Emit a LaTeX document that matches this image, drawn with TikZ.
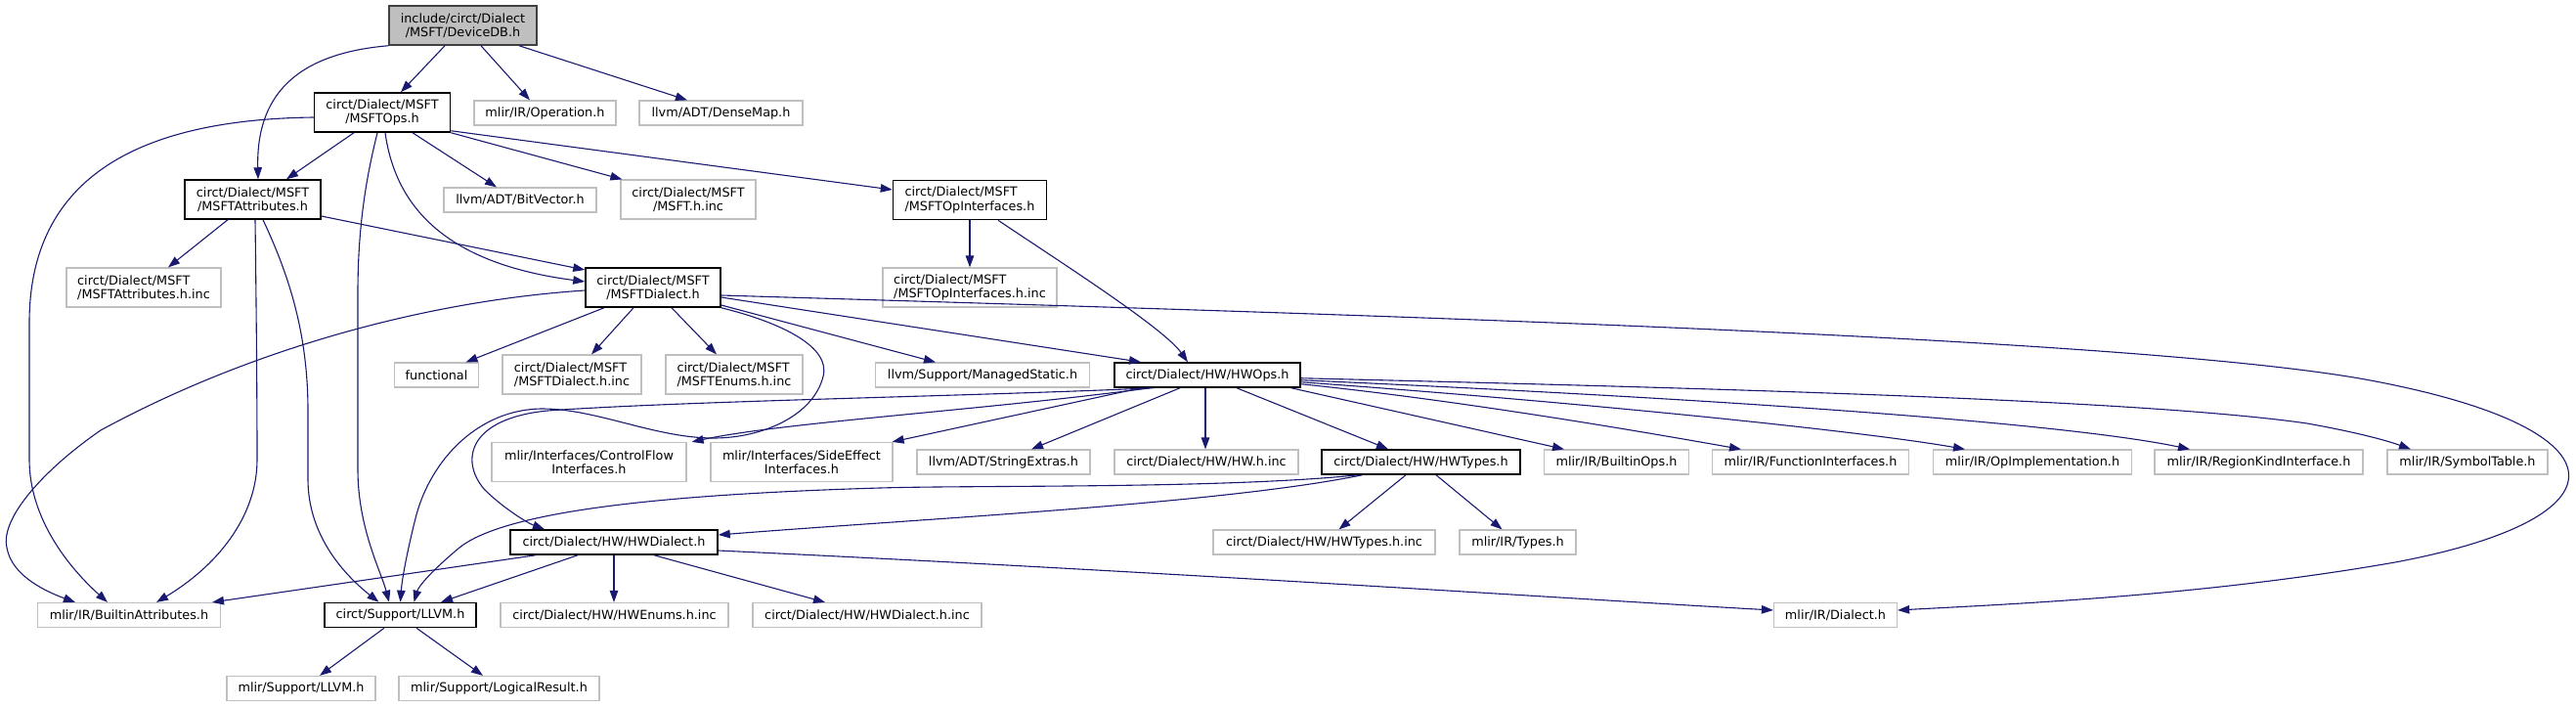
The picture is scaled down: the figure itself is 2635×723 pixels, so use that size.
\documentclass[tikz,border=0pt]{standalone}
\usepackage{fontspec}
\setmainfont{DejaVu Sans}
\usetikzlibrary{arrows.meta}
\definecolor{edgeblue}{RGB}{25,25,112}
\definecolor{greyline}{RGB}{191,191,191}
\definecolor{rootfill}{RGB}{191,191,191}
\definecolor{rootline}{RGB}{64,64,64}
\begin{document}
\begin{tikzpicture}[x=1pt,y=-1pt,
  nd/.style={rectangle, inner sep=0pt, align=center, font=\fontsize{12.8pt}{14.5pt}\selectfont},
  gr/.style={nd, draw=greyline, line width=1.2pt},
  bk/.style={nd, draw=black, line width=1.5pt},
  rt/.style={nd, draw=rootline, fill=rootfill, line width=1.5pt},
  one/.style={minimum height=25pt},
  two/.style={minimum height=40pt},
  lnk/.style={draw=edgeblue, line width=1.1pt, -{Triangle[length=12pt,width=8.5pt]}}]
\useasboundingbox (0,0) rectangle (2635,723);
% nodes
\node[rt, two, minimum width=151pt] (root) at (473.5,26) {include/circt/Dialect\\/MSFT/DeviceDB.h};
\node[bk, two, minimum width=139pt] (ops) at (391,115) {circt/Dialect/MSFT\\/MSFTOps.h};
\node[gr, one, minimum width=145pt] (operation) at (557.5,115.5) {mlir/IR/Operation.h};
\node[gr, one, minimum width=167pt] (densemap) at (737.5,115.5) {llvm/ADT/DenseMap.h};
\node[bk, two, minimum width=139pt] (attrs) at (258.5,204) {circt/Dialect/MSFT\\/MSFTAttributes.h};
\node[gr, one, minimum width=156pt] (bitvector) at (532,204.5) {llvm/ADT/BitVector.h};
\node[gr, two, minimum width=138pt] (msftinc) at (704,204) {circt/Dialect/MSFT\\/MSFT.h.inc};
\node[bk, two, minimum width=157pt, align=left] (opif) at (992,204.5) {circt/Dialect/MSFT\\/MSFTOpInterfaces.h};
\node[gr, two, minimum width=178pt, align=left] (opifinc) at (992,294) {circt/Dialect/MSFT\\/MSFTOpInterfaces.h.inc};
\node[gr, two, minimum width=158pt, align=left] (attrinc) at (147,294) {circt/Dialect/MSFT\\/MSFTAttributes.h.inc};
\node[bk, two, minimum width=138pt] (dialect) at (668,294) {circt/Dialect/MSFT\\/MSFTDialect.h};
\node[gr, one, minimum width=86pt] (functional) at (446.5,383.5) {functional};
\node[gr, two, minimum width=142pt, align=left] (dialinc) at (585,383) {circt/Dialect/MSFT\\/MSFTDialect.h.inc};
\node[gr, two, minimum width=140pt, align=left] (enumsinc) at (751,383) {circt/Dialect/MSFT\\/MSFTEnums.h.inc};
\node[gr, one, minimum width=219pt] (managed) at (1005,383.5) {llvm/Support/ManagedStatic.h};
\node[bk, one, minimum width=190pt] (hwops) at (1235,383.5) {circt/Dialect/HW/HWOps.h};
\node[gr, two, minimum width=199pt] (cflow) at (602.5,472.5) {mlir/Interfaces/ControlFlow\\Interfaces.h};
\node[gr, two, minimum width=186pt] (seffect) at (820,472.5) {mlir/Interfaces/SideEffect\\Interfaces.h};
\node[gr, one, minimum width=177pt] (strext) at (1026.5,472.5) {llvm/ADT/StringExtras.h};
\node[gr, one, minimum width=188pt] (hwinc) at (1234,472.5) {circt/Dialect/HW/HW.h.inc};
\node[bk, one, minimum width=203pt] (hwtypes) at (1453.5,472.5) {circt/Dialect/HW/HWTypes.h};
\node[gr, one, minimum width=148pt] (builtinops) at (1653.5,472.5) {mlir/IR/BuiltinOps.h};
\node[gr, one, minimum width=201pt] (funcif) at (1852,472.5) {mlir/IR/FunctionInterfaces.h};
\node[gr, one, minimum width=203pt] (opimpl) at (2079,472.5) {mlir/IR/OpImplementation.h};
\node[gr, one, minimum width=213pt] (regionkind) at (2310.5,472.5) {mlir/IR/RegionKindInterface.h};
\node[gr, one, minimum width=164pt] (symtab) at (2524,472.5) {mlir/IR/SymbolTable.h};
\node[bk, one, minimum width=212pt] (hwdialect) at (628,554.5) {circt/Dialect/HW/HWDialect.h};
\node[gr, one, minimum width=227pt] (hwtypesinc) at (1354.5,554.5) {circt/Dialect/HW/HWTypes.h.inc};
\node[gr, one, minimum width=119pt] (types) at (1552.5,554.5) {mlir/IR/Types.h};
\node[gr, one, minimum width=187pt] (battr) at (132,629) {mlir/IR/BuiltinAttributes.h};
\node[bk, one, minimum width=155pt] (llvm) at (409.5,629) {circt/Support/LLVM.h};
\node[gr, one, minimum width=233pt] (hwenums) at (628.5,629) {circt/Dialect/HW/HWEnums.h.inc};
\node[gr, one, minimum width=234pt] (hwdialinc) at (887,629) {circt/Dialect/HW/HWDialect.h.inc};
\node[gr, one, minimum width=126pt] (mdialect) at (1877.5,629) {mlir/IR/Dialect.h};
\node[gr, one, minimum width=152pt] (msupllvm) at (308,704) {mlir/Support/LLVM.h};
\node[gr, one, minimum width=205pt] (logres) at (510.5,704) {mlir/Support/LogicalResult.h};
% root edges
\draw[lnk] ([xshift=-18.5pt]root.south) -- ([xshift=19pt]ops.north);
\draw[lnk] (root.south west) .. controls (300,55) and (262,100) .. ([xshift=5.5pt]attrs.north);
\draw[lnk] ([xshift=18.5pt]root.south) -- ([xshift=-15.5pt]operation.north);
\draw[lnk] ([xshift=57.5pt]root.south) -- ([xshift=-34.5pt]densemap.north);
% MSFTOps edges
\draw[lnk] ([xshift=-29pt]ops.south) -- ([xshift=34.5pt]attrs.north);
\draw[lnk] ([xshift=-5pt]ops.south) .. controls (375,180) and (366,230) .. (366,300) -- (366,480) .. controls (366,540) and (390,585) .. ([xshift=-11.5pt]llvm.north);
\draw[lnk] ([xshift=3pt]ops.south) .. controls (405,215) and (460,270) .. ([yshift=6pt]dialect.west);
\draw[lnk] ([xshift=31pt]ops.south) -- ([xshift=-24pt]bitvector.north);
\draw[lnk] (ops.south east) -- ([xshift=2pt]msftinc.north west);
\draw[lnk] ([yshift=2pt]ops.south east) -- ([yshift=10.5pt]opif.west);
\draw[lnk] ([yshift=-5pt]ops.west) .. controls (160,122) and (30,170) .. (30,330) -- (30,470) .. controls (30,530) and (70,580) .. ([xshift=-22pt]battr.north);
% MSFTAttributes edges
\draw[lnk] ([xshift=-25.5pt]attrs.south) -- ([xshift=25pt]attrinc.north);
\draw[lnk] ([yshift=-17pt]attrs.east) -- ([yshift=18pt]dialect.west);
\draw[lnk] ([xshift=2.5pt]attrs.south) .. controls (262,300) and (263,400) .. (263,470) .. controls (263,530) and (220,580) .. ([xshift=28pt]battr.north);
\draw[lnk] ([xshift=10.5pt]attrs.south) .. controls (295,280) and (315,340) .. (315,420) -- (315,490) .. controls (315,550) and (355,590) .. ([xshift=-22pt]llvm.north);
% MSFTOpInterfaces edges
\draw[lnk] (opif.south) -- (opifinc.north);
\draw[lnk] ([xshift=29pt]opif.south) .. controls (1080,265) and (1190,335) .. ([xshift=-20pt]hwops.north);
% MSFTDialect edges
\draw[lnk] ([xshift=-50pt]dialect.south) -- ([xshift=30pt]functional.north);
\draw[lnk] ([xshift=-20pt]dialect.south) -- ([xshift=20pt]dialinc.north);
\draw[lnk] ([xshift=19pt]dialect.south) -- ([xshift=-18pt]enumsinc.north);
\draw[lnk] ([yshift=-3pt]dialect.west) .. controls (430,308) and (250,360) .. (103,440) .. controls (45,480) and (0,530) .. (7,560) .. controls (12,590) and (50,606) .. ([xshift=-55pt]battr.north);
\draw[lnk] ([yshift=-18pt]dialect.east) -- ([xshift=-48pt]managed.north);
\draw[lnk] ([yshift=-10pt]dialect.east) -- ([xshift=-68pt]hwops.north);
\draw[lnk] ([yshift=-8pt]dialect.east) .. controls (1400,322) and (2200,345) .. (2430,390) .. controls (2690,440) and (2690,530) .. (2450,575) .. controls (2250,610) and (2050,618) .. ([yshift=5pt]mdialect.east);
\draw[lnk] (dialect.south east) .. controls (800,330) and (850,355) .. (842,385) .. controls (832,425) and (780,448) .. (730,448) .. controls (670,448) and (610,418) .. (555,418) .. controls (490,418) and (440,470) .. (425,530) .. controls (415,570) and (411,595) .. (llvm.north);
% HWOps edges
\draw[lnk] ([xshift=-28pt]hwops.south) -- ([xshift=28.5pt]strext.north);
\draw[lnk] ([xshift=-2pt]hwops.south) -- ([xshift=-1pt]hwinc.north);
\draw[lnk] ([xshift=30pt]hwops.south) -- ([xshift=-33.5pt]hwtypes.north);
\draw[lnk] ([xshift=-10pt]hwops.south east) -- ([xshift=-53.5pt]builtinops.north);
\draw[lnk] ([yshift=4pt]hwops.south east) .. controls (1500,410) and (1700,445) .. ([xshift=-71pt]funcif.north);
\draw[lnk] ([yshift=6pt]hwops.south east) .. controls (1600,410) and (1900,440) .. ([xshift=-69pt]opimpl.north);
\draw[lnk] ([yshift=8pt]hwops.south east) .. controls (1700,405) and (2100,430) .. ([xshift=-70.5pt]regionkind.north);
\draw[lnk] ([yshift=10pt]hwops.south east) .. controls (1800,398) and (2200,410) .. (2360,433) .. controls (2410,442) and (2440,450) .. ([xshift=-58pt]symtab.north);
\draw[lnk] ([xshift=-68pt]hwops.south) -- ([xshift=-1pt]seffect.north east);
\draw[lnk] ([xshift=-58pt]hwops.south) .. controls (1000,420) and (800,432) .. ([xshift=5pt]cflow.north east);
\draw[lnk] ([xshift=-55pt]hwops.south) .. controls (1000,405) and (700,410) .. (560,420) .. controls (480,428) and (470,470) .. (495,500) .. controls (515,520) and (540,535) .. ([xshift=-71pt]hwdialect.north);
% HWTypes edges
\draw[lnk] ([xshift=-15.5pt]hwtypes.south) -- ([xshift=15pt]hwtypesinc.north);
\draw[lnk] ([xshift=15.5pt]hwtypes.south) -- ([xshift=-16pt]types.north);
\draw[lnk] ([xshift=-60pt]hwtypes.south) .. controls (1250,515) and (950,530) .. ([yshift=7.5pt]hwdialect.east);
\draw[lnk] ([xshift=-64pt]hwtypes.south) .. controls (1250,500) and (1000,496) .. (900,499) .. controls (700,505) and (520,520) .. (470,560) .. controls (440,585) and (428,600) .. ([xshift=14pt]llvm.north);
% HWDialect edges
\draw[lnk] ([xshift=-80pt]hwdialect.south) -- ([xshift=85pt]battr.north);
\draw[lnk] ([xshift=-37pt]hwdialect.south) -- ([xshift=41.5pt]llvm.north);
\draw[lnk] (hwdialect.south) -- ([xshift=-0.5pt]hwenums.north);
\draw[lnk] ([xshift=41pt]hwdialect.south) -- ([xshift=-43pt]hwdialinc.north);
\draw[lnk] ([yshift=-8.5pt]hwdialect.east) .. controls (1200,585) and (1600,612) .. ([yshift=5pt]mdialect.west);
% LLVM edges
\draw[lnk] ([xshift=-16.5pt]llvm.south) -- ([xshift=19pt]msupllvm.north);
\draw[lnk] ([xshift=16.5pt]llvm.south) -- ([xshift=-16.5pt]logres.north);
\end{tikzpicture}
\end{document}
